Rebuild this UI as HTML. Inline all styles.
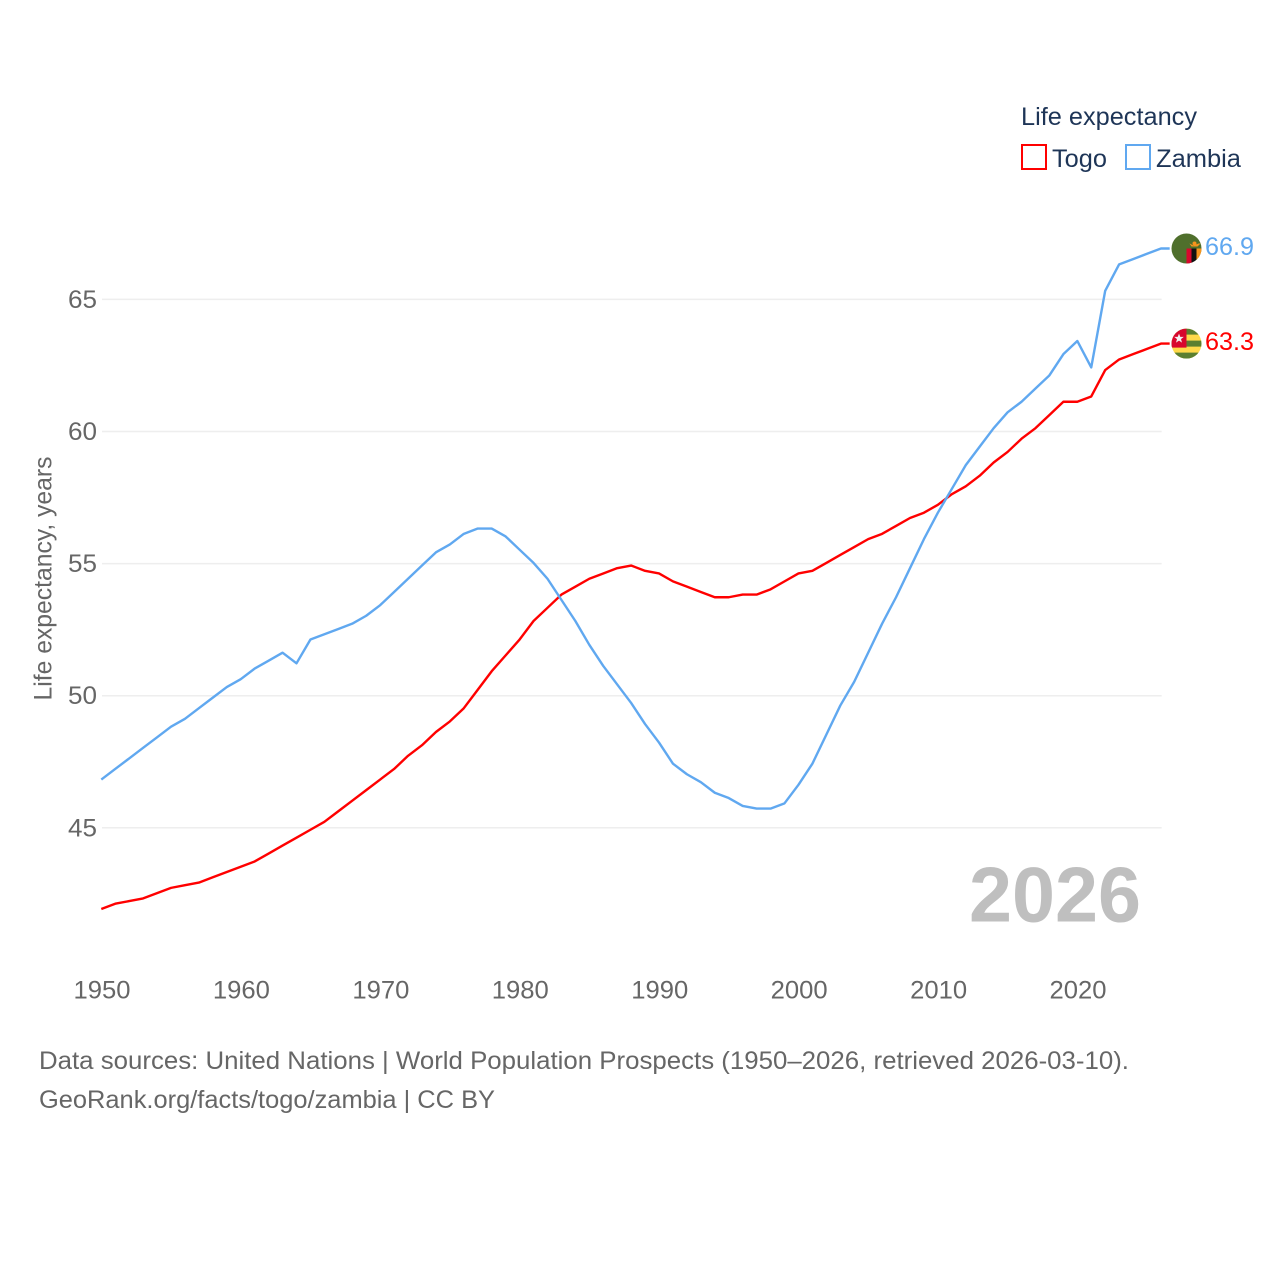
<!DOCTYPE html>
<html lang="en">
<head>
<meta charset="utf-8">
<title>Life expectancy: Togo and Zambia</title>
<style>
  html, body { margin: 0; padding: 0; background: #fff; }
  svg { display: block; font-family: "Liberation Sans", sans-serif; }
  .tick { font-size: 25px; fill: #666; }
</style>
</head>
<body>
<svg id="chart" width="1280" height="1280" viewBox="0 0 1280 1280" xmlns="http://www.w3.org/2000/svg">
  <defs>
    <clipPath id="flag-clip-zambia"><circle cx="0" cy="0" r="15"/></clipPath>
    <clipPath id="flag-clip-togo"><circle cx="0" cy="0" r="15"/></clipPath>
  </defs>
  <g id="grid"></g>
  <g id="y-ticks"></g>
  <g id="x-ticks"></g>
  <text transform="translate(51.5,578.5) rotate(-90)" text-anchor="middle" font-size="25" fill="#666" textLength="244" lengthAdjust="spacingAndGlyphs">Life expectancy, years</text>
  <text id="year-label" x="1141" y="921.5" text-anchor="end" font-size="78" font-weight="700" fill="#bfbfbf" textLength="172" lengthAdjust="spacingAndGlyphs"></text>
  <g id="series"></g>
  <g id="flag-zambia">
    <g clip-path="url(#flag-clip-zambia)">
      <rect x="-15" y="-15" width="30" height="30" fill="#4f6f2c"/>
      <rect x="0" y="0" width="5" height="15" fill="#d8072d"/>
      <rect x="5" y="0" width="5" height="15" fill="#111"/>
      <rect x="10" y="0" width="5" height="15" fill="#f7941d"/>
      <path d="M3 -5 L7 -3 L12 -5 L14 -5 L11 -2 L5 -2 Z" fill="#f7941d"/>
      <circle cx="8" cy="-5" r="2" fill="#f7941d"/>
    </g>
  </g>
  <g id="flag-togo">
    <g clip-path="url(#flag-clip-togo)">
      <rect x="-15" y="-15" width="30" height="30" fill="#ffd94a"/>
      <rect x="-15" y="-15" width="30" height="6" fill="#5b7f30"/>
      <rect x="-15" y="-3" width="30" height="6" fill="#5b7f30"/>
      <rect x="-15" y="9" width="30" height="6" fill="#5b7f30"/>
      <rect x="-15" y="-15" width="15" height="19" fill="#d8072d"/>
      <path d="M-7.5 -10 L-6.2 -6.7 L-2.7 -6.7 L-5.5 -4.5 L-4.5 -1 L-7.5 -3 L-10.5 -1 L-9.5 -4.5 L-12.3 -6.7 L-8.8 -6.7 Z" fill="#f2f2f2"/>
    </g>
  </g>
  <g>
    <text x="1021" y="125" font-size="25" fill="#1e3557" textLength="176" lengthAdjust="spacingAndGlyphs">Life expectancy</text>
    <rect x="1022" y="145" width="24" height="24" fill="none" stroke="#ff0000" stroke-width="2"/>
    <text x="1052" y="167" font-size="25" fill="#1e3557" textLength="55" lengthAdjust="spacingAndGlyphs">Togo</text>
    <rect x="1126" y="145" width="24" height="24" fill="none" stroke="#60a8f0" stroke-width="2"/>
    <text x="1156" y="167" font-size="25" fill="#1e3557" textLength="85" lengthAdjust="spacingAndGlyphs">Zambia</text>
  </g>
  <text x="39" y="1069" font-size="25" fill="#666" textLength="1090" lengthAdjust="spacingAndGlyphs">Data sources: United Nations | World Population Prospects (1950–2026, retrieved 2026-03-10).</text>
  <text x="39" y="1108" font-size="25" fill="#666" textLength="456" lengthAdjust="spacingAndGlyphs">GeoRank.org/facts/togo/zambia | CC BY</text>
</svg>
<script>
const years = [1950,1951,1952,1953,1954,1955,1956,1957,1958,1959,1960,1961,1962,1963,1964,1965,1966,1967,1968,1969,1970,1971,1972,1973,1974,1975,1976,1977,1978,1979,1980,1981,1982,1983,1984,1985,1986,1987,1988,1989,1990,1991,1992,1993,1994,1995,1996,1997,1998,1999,2000,2001,2002,2003,2004,2005,2006,2007,2008,2009,2010,2011,2012,2013,2014,2015,2016,2017,2018,2019,2020,2021,2022,2023,2024,2025,2026];
const togo = [41.9,42.1,42.2,42.3,42.5,42.7,42.8,42.9,43.1,43.3,43.5,43.7,44.0,44.3,44.6,44.9,45.2,45.6,46.0,46.4,46.8,47.2,47.7,48.1,48.6,49.0,49.5,50.2,50.9,51.5,52.1,52.8,53.3,53.8,54.1,54.4,54.6,54.8,54.9,54.7,54.6,54.3,54.1,53.9,53.7,53.7,53.8,53.8,54.0,54.3,54.6,54.7,55.0,55.3,55.6,55.9,56.1,56.4,56.7,56.9,57.2,57.6,57.9,58.3,58.8,59.2,59.7,60.1,60.6,61.1,61.1,61.3,62.3,62.7,62.9,63.1,63.3];
const zambia = [46.8,47.2,47.6,48.0,48.4,48.8,49.1,49.5,49.9,50.3,50.6,51.0,51.3,51.6,51.2,52.1,52.3,52.5,52.7,53.0,53.4,53.9,54.4,54.9,55.4,55.7,56.1,56.3,56.3,56.0,55.5,55.0,54.4,53.6,52.8,51.9,51.1,50.4,49.7,48.9,48.2,47.4,47.0,46.7,46.3,46.1,45.8,45.7,45.7,45.9,46.6,47.4,48.5,49.6,50.5,51.6,52.7,53.7,54.8,55.9,56.9,57.8,58.7,59.4,60.1,60.7,61.1,61.6,62.1,62.9,63.4,62.4,65.3,66.3,66.5,66.7,66.9];
const yTicks = [45,50,55,60,65];
const xTicks = [1950,1960,1970,1980,1990,2000,2010,2020];

const svgNS = 'http://www.w3.org/2000/svg';
const xScale = function (year) { return 102 + (year - 1950) * 13.943; };
const yScale = function (value) { return 827.8 - (value - 45) * 26.42; };
const plotRight = xScale(years[years.length - 1]);
const lineDx = -0.7;
const lineDy = -0.7;

function make(tag, attrs, parent, text) {
  const el = document.createElementNS(svgNS, tag);
  for (const key in attrs) el.setAttribute(key, attrs[key]);
  if (text !== undefined) el.textContent = text;
  parent.appendChild(el);
  return el;
}

const gridGroup = document.getElementById('grid');
const yTickGroup = document.getElementById('y-ticks');
yTicks.forEach(function (tick) {
  const line = make('line', { x1: xScale(years[0]), x2: plotRight, y1: yScale(tick), y2: yScale(tick), stroke: '#eeeeee', 'stroke-width': 1.5 }, gridGroup);
  
  
  const label = make('text', { x: 97, y: yScale(tick) + 8.5, 'text-anchor': 'end', class: 'tick', textLength: 29, lengthAdjust: 'spacingAndGlyphs' }, yTickGroup, String(tick));
  
  
});

const xTickGroup = document.getElementById('x-ticks');
xTicks.forEach(function (tick) {
  const label = make('text', { x: xScale(tick), y: 998.5, 'text-anchor': 'middle', class: 'tick', textLength: 57, lengthAdjust: 'spacingAndGlyphs' }, xTickGroup, String(tick));
  
  
});

document.getElementById('year-label').textContent = String(years[years.length - 1]);

const seriesGroup = document.getElementById('series');
function drawSeries(name, values, color, flagId) {
  const last = values[values.length - 1];
  const lastY = yScale(last) + lineDy;
  let d = values.map(function (v, i) {
    return (i ? 'L' : 'M') + (xScale(years[i]) + lineDx).toFixed(2) + ' ' + (yScale(v) + lineDy).toFixed(2);
  }).join(' ');
  d += ' L' + (plotRight + 8).toFixed(2) + ' ' + lastY.toFixed(2);
  const path = make('path', { d: d, fill: 'none', stroke: color, 'stroke-width': 2.4, 'stroke-linejoin': 'round' }, seriesGroup);
  
  
  const label = make('text', { x: 1205, y: lastY + 6.5, 'font-size': 25, fill: color, textLength: 49, lengthAdjust: 'spacingAndGlyphs' }, seriesGroup, last.toFixed(1));
  
  
  document.getElementById(flagId).setAttribute('transform', 'translate(1186.5,' + lastY.toFixed(2) + ')');
}
drawSeries('togo', togo, '#ff0000', 'flag-togo');
drawSeries('zambia', zambia, '#60a8f0', 'flag-zambia');
</script>
</body>
</html>
